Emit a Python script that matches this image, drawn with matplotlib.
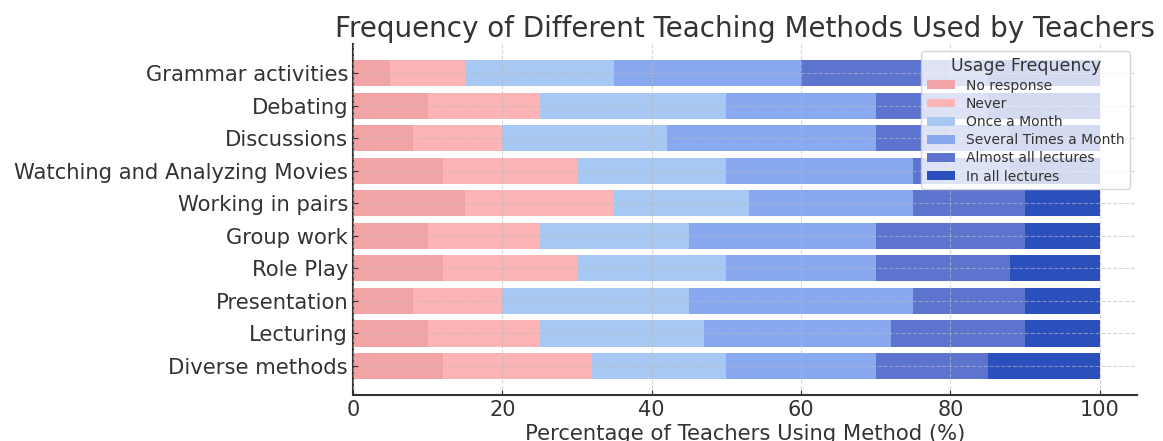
import numpy as np
import matplotlib.pyplot as plt

# teaching methods (top to bottom as shown)
methods = ['Grammar activities', 'Debating', 'Discussions', 'Watching and Analyzing Movies',
           'Working in pairs', 'Group work', 'Role Play', 'Presentation', 'Lecturing',
           'Diverse methods']
freq_labels = ['No response', 'Never', 'Once a Month', 'Several Times a Month',
               'Almost all lectures', 'In all lectures']

# percentages per frequency category
no_response = [5, 10, 8, 12, 15, 10, 12, 8, 10, 12]
never = [10, 15, 12, 18, 20, 15, 18, 12, 15, 20]
once_month = [20, 25, 22, 20, 18, 20, 20, 25, 22, 18]
several_month = [25, 20, 28, 25, 22, 25, 20, 30, 25, 20]
almost_all = [25, 15, 18, 13, 15, 20, 18, 15, 18, 15]
in_all = [15, 15, 12, 12, 10, 10, 12, 10, 10, 15]

colors = ['#f2a3a5', '#fdb4b6', '#a6c8f3', '#88a9f0', '#5d74cf', '#2b4fbd']

series = [no_response, never, once_month, several_month, almost_all, in_all]

plt.rcParams['text.color'] = '#333333'
plt.rcParams['axes.labelcolor'] = '#333333'

fig = plt.figure(figsize=(11.63, 4.41), dpi=100)
ax = fig.add_axes([0.3035, 0.1043, 0.6742, 0.7957])

y = np.arange(len(methods))[::-1]
left = np.zeros(len(methods))
for vals, lab, c in zip(series, freq_labels, colors):
    ax.barh(y, vals, left=left, height=0.8, color=c, label=lab)
    left += np.array(vals)

ax.set_yticks(y)
ax.set_yticklabels(methods, fontsize=15.2)
ax.set_xlim(0, 105)
ax.set_xticks([0, 20, 40, 60, 80, 100])
ax.tick_params(axis='x', labelsize=15, direction='in', colors='#333333')
ax.tick_params(axis='y', direction='in', colors='#333333')
ax.set_axisbelow(False)
ax.grid(True, linestyle='--', color='#bbbbbb', alpha=0.6)
for s in ['top', 'right']:
    ax.spines[s].set_visible(False)
for s in ['left', 'bottom']:
    ax.spines[s].set_linewidth(1.5)
    ax.spines[s].set_color('#333333')

ax.set_title('Frequency of Different Teaching Methods Used by Teachers', fontsize=20, pad=5)
ax.set_xlabel('Percentage of Teachers Using Method (%)', fontsize=15.2, labelpad=3)
ax.legend(title='Usage Frequency', loc='upper right', fontsize=10, title_fontsize=12.5,
          labelspacing=0.3, handleheight=0.6)

fig.savefig('out.png', dpi=100)
